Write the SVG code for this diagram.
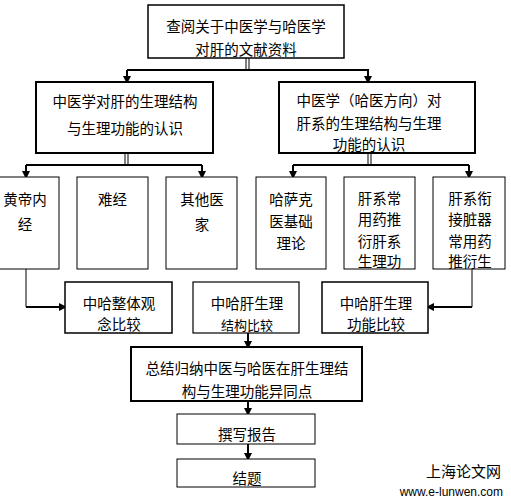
<svg xmlns="http://www.w3.org/2000/svg" width="511" height="502" viewBox="0 0 511 502">
<defs>
<style>
.box{fill:#fff;stroke:#000}
.t{font-family:"Noto Sans CJK SC","Noto Sans CJK JP",sans-serif;font-size:14.5px;fill:#000;text-anchor:middle;dominant-baseline:central}
.ln{fill:none;stroke:#000;stroke-width:2}
.thin{fill:none;stroke:#000;stroke-width:1}
</style>
<marker id="ah" markerWidth="8" markerHeight="8" refX="7" refY="4" orient="auto" markerUnits="userSpaceOnUse">
<path d="M0,0 L8,4 L0,8 Z" fill="#000"/>
</marker>
</defs>
<rect width="511" height="502" fill="#fff"/>

<g id="connectors">
<line class="thin" x1="246" y1="58" x2="246" y2="70"/>
<line class="thin" x1="249" y1="58" x2="249" y2="70"/>
<polyline class="ln" points="127,70 368,70 368,83" marker-end="url(#ah)"/>
<line class="ln" x1="127" y1="70" x2="127" y2="83" marker-end="url(#ah)"/>
<line class="thin" x1="125" y1="153" x2="125" y2="165"/>
<line class="thin" x1="128" y1="153" x2="128" y2="165"/>
<polyline class="ln" points="26,165 202,165"/>
<line class="ln" x1="26" y1="165" x2="26" y2="178" marker-end="url(#ah)"/>
<line class="ln" x1="202" y1="165" x2="202" y2="178" marker-end="url(#ah)"/>
<line class="thin" x1="368" y1="153" x2="368" y2="165"/>
<line class="thin" x1="371" y1="153" x2="371" y2="165"/>
<polyline class="ln" points="293,165 469,165"/>
<line class="ln" x1="293" y1="165" x2="293" y2="178" marker-end="url(#ah)"/>
<line class="ln" x1="469" y1="165" x2="469" y2="178" marker-end="url(#ah)"/>
<polyline class="thin" points="26,269 26,307"/>
<line class="ln" x1="26" y1="307" x2="66" y2="307" marker-end="url(#ah)"/>
<polyline class="thin" points="472,269 472,307"/>
<line class="ln" x1="472" y1="307" x2="427" y2="307" marker-end="url(#ah)"/>
<line class="ln" x1="248" y1="333" x2="248" y2="348" marker-end="url(#ah)"/>
<line class="ln" x1="248" y1="401" x2="248" y2="415" marker-end="url(#ah)"/>
<line class="ln" x1="248" y1="444" x2="248" y2="460" marker-end="url(#ah)"/>
</g>

<g id="n-top">
<rect class="box" x="148" y="5" width="196" height="53" stroke-width="1.5"/>
<text class="t" x="246" y="25">查阅关于中医学与哈医学</text>
<text class="t" x="246" y="48">对肝的文献资料</text>
</g>

<g id="n-tcm">
<rect class="box" x="36" y="82" width="177" height="71" stroke-width="2"/>
<text class="t" x="125" y="100">中医学对肝的生理结构</text>
<text class="t" x="125" y="127">与生理功能的认识</text>
</g>

<g id="n-kazakh">
<rect class="box" x="279" y="82" width="196" height="71" stroke-width="2"/>
<text class="t" x="369" y="99">中医学（哈医方向）对</text>
<text class="t" x="369" y="122">肝系的生理结构与生理</text>
<text class="t" x="369" y="143">功能的认识</text>
</g>

<g id="n-huangdi">
<rect class="box" x="-2" y="177" width="61" height="92" stroke-width="1"/>
<text class="t" x="25" y="198">黄帝内</text>
<text class="t" x="25" y="223">经</text>
</g>

<g id="n-nanjing">
<rect class="box" x="77" y="177" width="71" height="92" stroke-width="1"/>
<text class="t" x="112.5" y="198">难经</text>
</g>

<g id="n-other">
<rect class="box" x="166" y="177" width="71" height="92" stroke-width="1"/>
<text class="t" x="202" y="198">其他医</text>
<text class="t" x="202" y="223">家</text>
</g>

<g id="n-hasake">
<rect class="box" x="256" y="177" width="70" height="92" stroke-width="1"/>
<text class="t" x="291" y="198">哈萨克</text>
<text class="t" x="291" y="220">医基础</text>
<text class="t" x="291" y="242">理论</text>
</g>

<g id="n-drug1">
<rect class="box" x="344" y="177" width="71" height="92" stroke-width="1"/>
<text class="t" x="379.5" y="197">肝系常</text>
<text class="t" x="379.5" y="218">用药推</text>
<text class="t" x="379.5" y="240">衍肝系</text>
<text class="t" x="379.5" y="260">生理功</text>
</g>

<g id="n-drug2">
<rect class="box" x="433" y="177" width="72" height="92" stroke-width="1"/>
<text class="t" x="470" y="197">肝系衔</text>
<text class="t" x="470" y="218">接脏器</text>
<text class="t" x="470" y="240">常用药</text>
<text class="t" x="470" y="260">推衍生</text>
</g>

<g id="n-holistic">
<rect class="box" x="65" y="282" width="107" height="51" stroke-width="1.5"/>
<text class="t" x="119" y="302">中哈整体观</text>
<text class="t" x="119" y="323">念比较</text>
</g>

<g id="n-structure">
<rect class="box" x="193" y="282" width="106" height="51" stroke-width="1.2"/>
<text class="t" x="247" y="302">中哈肝生理</text>
<text class="t" x="247" y="324" style="font-size:13px">结构比较</text>
</g>

<g id="n-function">
<rect class="box" x="322" y="282" width="106" height="51" stroke-width="1.5"/>
<text class="t" x="376" y="302">中哈肝生理</text>
<text class="t" x="376" y="323">功能比较</text>
</g>

<g id="n-summary">
<rect class="box" x="131" y="347" width="231" height="54" stroke-width="2"/>
<text class="t" x="247" y="367">总结归纳中医与哈医在肝生理结</text>
<text class="t" x="247" y="390">构与生理功能异同点</text>
</g>

<g id="n-report">
<rect class="box" x="177" y="414" width="138" height="30" stroke-width="1"/>
<text class="t" x="247" y="433">撰写报告</text>
</g>

<g id="n-end">
<rect class="box" x="177" y="459" width="138" height="28" stroke-width="1"/>
<text class="t" x="247" y="477">结题</text>
</g>

<g id="watermark">
<text x="501" y="477" style="font-family:'Noto Sans CJK SC',sans-serif;font-size:15px;text-anchor:end;fill:#000">上海论文网</text>
<text x="503" y="496" style="font-family:'Liberation Sans',sans-serif;font-size:12px;text-anchor:end;fill:#000">www.e-lunwen.com</text>
</g>
</svg>
